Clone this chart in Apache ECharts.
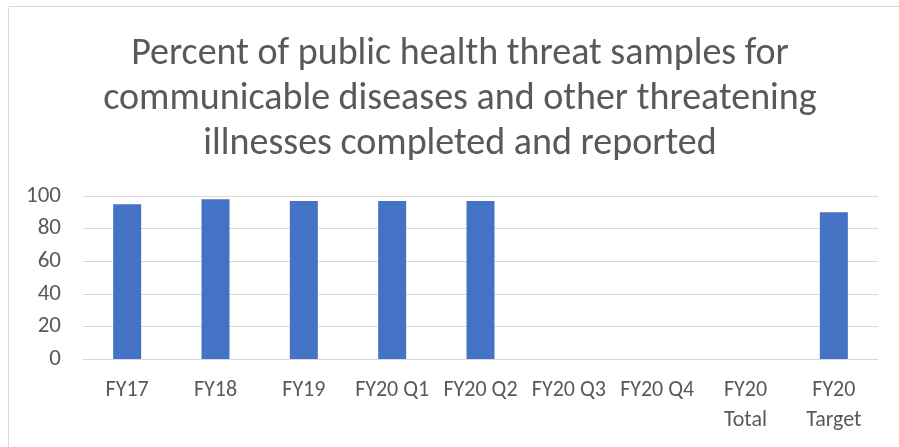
<!DOCTYPE html>
<html>
<head>
<meta charset="utf-8">
<script src="https://cdn.jsdelivr.net/npm/echarts@6/dist/echarts.min.js"></script>
<style>
  html, body { margin: 0; padding: 0; background: #ffffff; }
  #chart { width: 899px; height: 447px; }
</style>
</head>
<body>
<div id="chart"></div>
<script>
// Reporting periods along the x axis
const categories = ['FY17', 'FY18', 'FY19', 'FY20 Q1', 'FY20 Q2', 'FY20 Q3', 'FY20 Q4', 'FY20\nTotal', 'FY20\nTarget'];
// Percent completed and reported (no data yet for Q3, Q4 and the FY20 total)
const percentValues = [95, 98, 97, 97, 97, null, null, null, 90];
// Value axis range
const yMin = 0;
const yMax = 100;
const yStep = 20;

const titleText = 'Percent of public health threat samples for\ncommunicable diseases and other threatening\nillnesses completed and reported';

const fontFamily = 'Carlito, Calibri, Lato, "Liberation Sans", sans-serif';
const textColor = '#595959';
const gridColor = '#d9d9d9';

const chart = echarts.init(document.getElementById('chart'), null, { renderer: 'canvas' });
chart.setOption({
  backgroundColor: '#ffffff',
  animation: false,
  title: {
    text: titleText,
    left: 455,
    textAlign: 'center',
    top: 27,
    textStyle: {
      fontFamily: fontFamily,
      fontSize: 38,
      fontWeight: 'normal',
      color: textColor,
      lineHeight: 45
    }
  },
  graphic: [{
    type: 'rect',
    shape: { x: 8.5, y: 6.5, width: 1000, height: 1000 },
    style: { fill: 'none', stroke: gridColor, lineWidth: 1 },
    silent: true
  }],
  grid: { left: 83, right: 21, top: 196, bottom: 88 },
  xAxis: {
    type: 'category',
    data: categories,
    axisLine: { show: true, lineStyle: { color: gridColor, width: 1 } },
    axisTick: { show: false },
    axisLabel: {
      interval: 0,
      margin: 16,
      fontFamily: fontFamily,
      fontSize: 22,
      color: textColor,
      lineHeight: 30
    }
  },
  yAxis: {
    type: 'value',
    min: yMin,
    max: yMax,
    interval: yStep,
    axisLine: { show: false },
    axisTick: { show: false },
    splitLine: { lineStyle: { color: gridColor, width: 1 } },
    axisLabel: {
      margin: 22,
      fontFamily: fontFamily,
      fontSize: 23,
      color: textColor
    }
  },
  series: [{
    type: 'bar',
    data: percentValues,
    barWidth: 28,
    itemStyle: { color: '#4472C4' }
  }]
});
</script>
</body>
</html>
